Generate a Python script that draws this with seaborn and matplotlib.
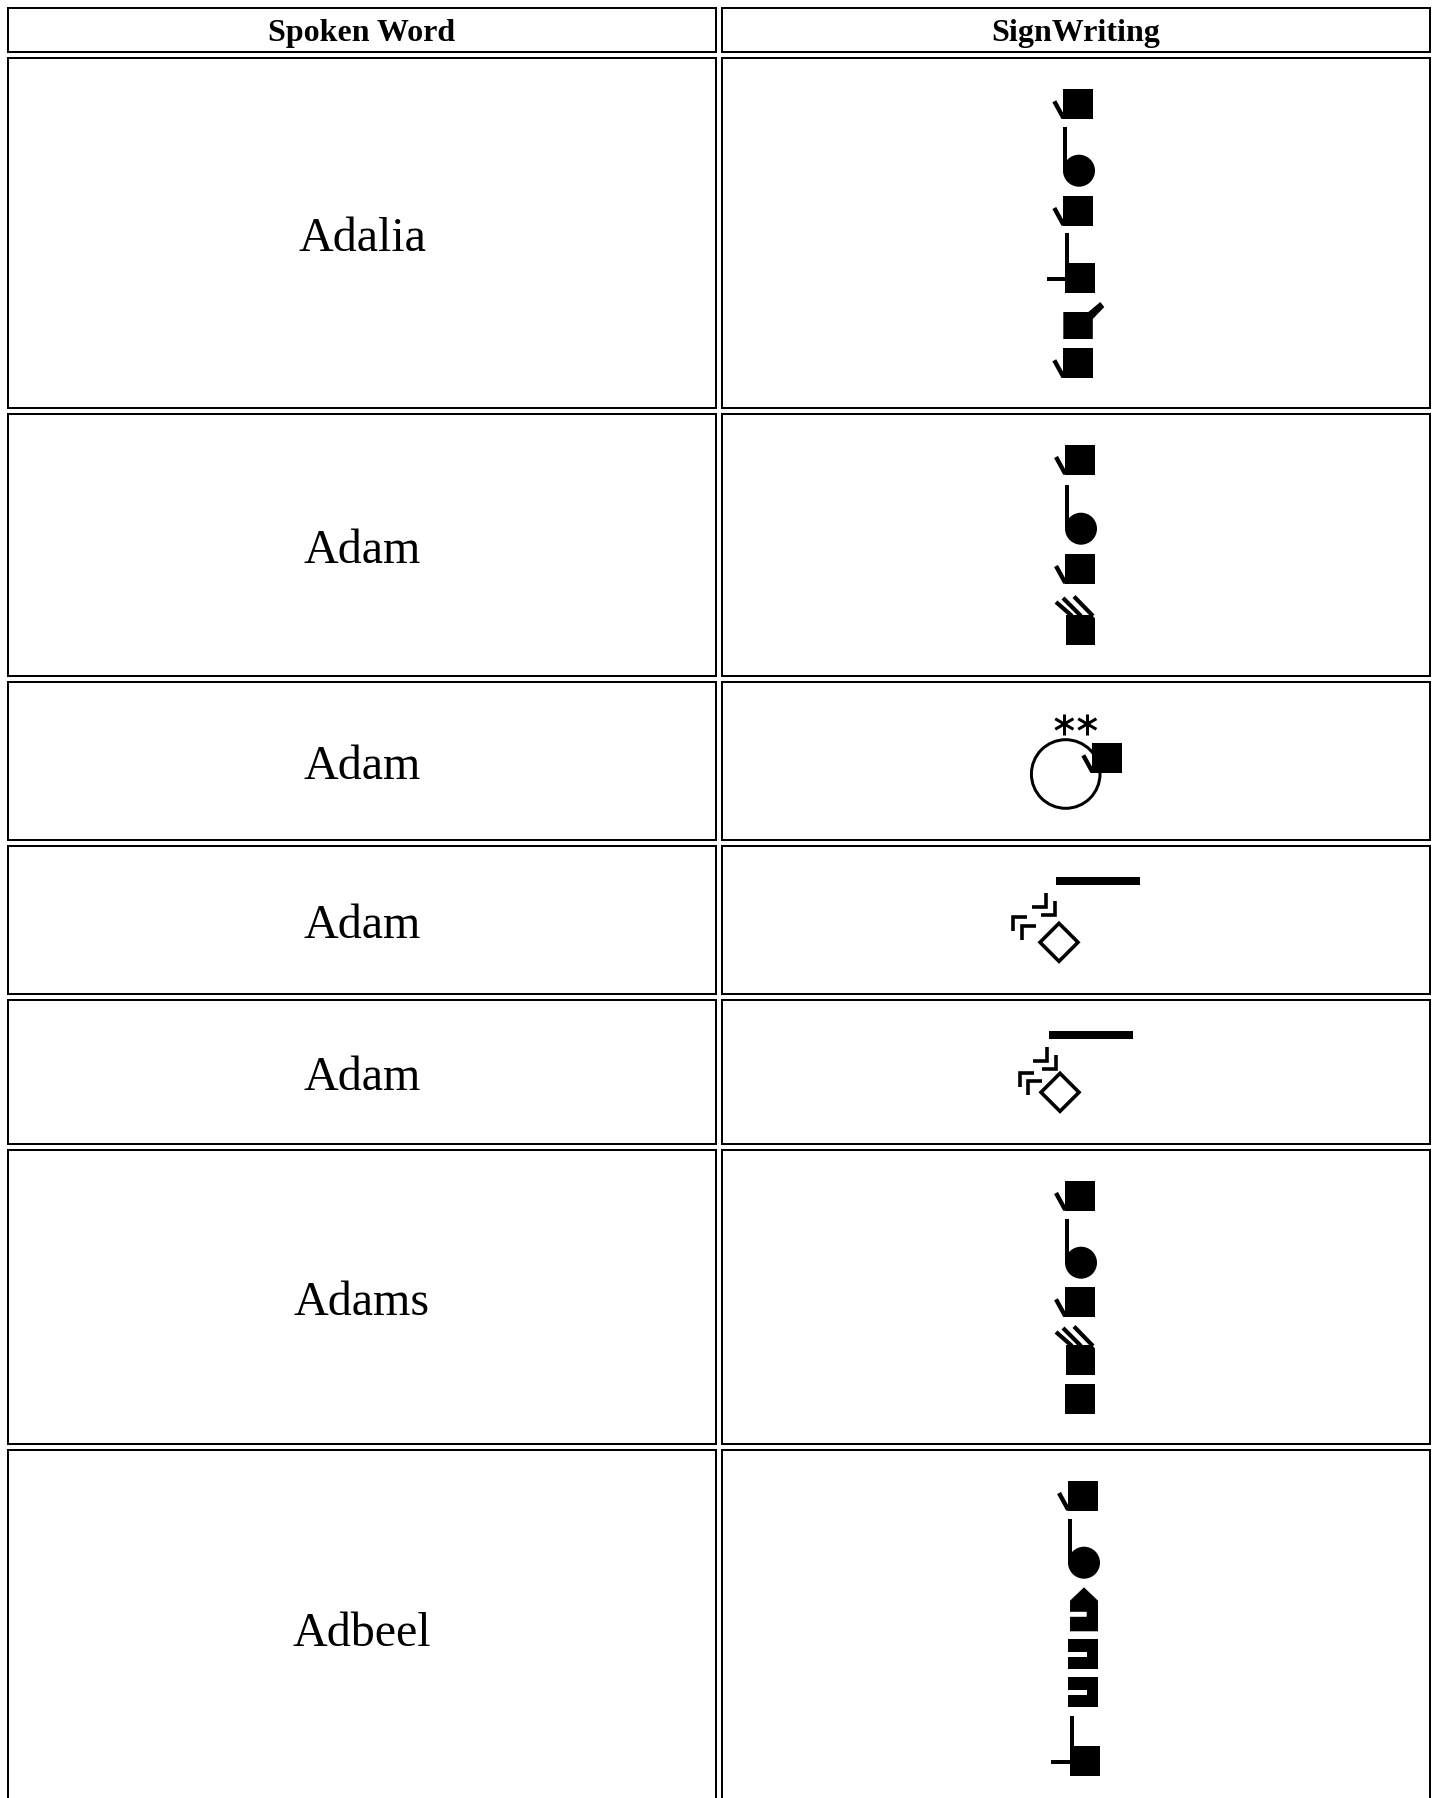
import matplotlib
matplotlib.use("Agg")
import matplotlib.pyplot as plt
from matplotlib.patches import Rectangle, Polygon, Circle
import numpy as np
import pandas as pd
import seaborn as sns

WIDTH, HEIGHT = 1435, 1798

headers = ["Spoken Word", "SignWriting"]
words = ["Adalia", "Adam", "Adam", "Adam", "Adam", "Adams", "Adbeel"]

col_edges = [(8, 716), (722, 1430)]
header_edge = (8, 52)
row_edges = [(58, 408), (414, 676), (682, 840), (846, 994),
             (1000, 1144), (1150, 1444), (1450, 1806)]

# SignWriting symbols of each row: (symbol kind, left or centre x, top or centre y)
row1_signs = [("tick", 1063.3, 89.3), ("ball", 1079, 170.7), ("tick", 1063.3, 196),
              ("stem", 1065.3, 263.3), ("flick", 1063.3, 311), ("tick", 1063.3, 348.3)]
row2_signs = [("tick", 1065, 445), ("ball", 1081, 528.7), ("tick", 1065, 554),
              ("rake", 1066, 615)]
row3_signs = [("ring", 1065.7, 774), ("star", 1064.3, 724), ("star", 1087.3, 724),
              ("tick", 1092.3, 743.3)]
row4_signs = [("bar", 1056, 876.7), ("diamond", 1059, 942.3),
              ("hook_ne", 1032.3, 907.3), ("hook_ne", 1041, 915),
              ("hook_nw", 1013.3, 917.3), ("hook_nw", 1021.7, 925.7)]
row5_signs = [("bar", 1049, 1031), ("diamond", 1060, 1092.3),
              ("hook_ne", 1033.3, 1061), ("hook_ne", 1041.7, 1069),
              ("hook_nw", 1020, 1073.3), ("hook_nw", 1027.7, 1081)]
row6_signs = [("tick", 1065, 1181), ("ball", 1081, 1262.7), ("tick", 1065, 1287.3),
              ("rake", 1066, 1345), ("block", 1065, 1384)]
row7_signs = [("tick", 1068, 1481), ("ball", 1084, 1562.7), ("house", 1070, 1587.3),
              ("notch", 1068, 1639.3), ("notch", 1068, 1677.3), ("stem", 1070, 1746)]
all_signs = [row1_signs, row2_signs, row3_signs, row4_signs,
             row5_signs, row6_signs, row7_signs]

sns.set_theme(style="white", rc={"figure.facecolor": "white", "axes.facecolor": "white"})
plt.rcParams["font.family"] = ["Liberation Serif", "DejaVu Serif"]

fig = plt.figure(figsize=(WIDTH / 100, HEIGHT / 100), dpi=100)
ax = fig.add_axes([0, 0, 1, 1])

# cell frames
frames = []
cell_id = 0
for top, bottom in [header_edge] + row_edges:
    for left, right in col_edges:
        for x, y in [(left, top), (right, top), (right, bottom), (left, bottom), (left, top)]:
            frames.append({"x": x, "y": y, "cell": cell_id})
        cell_id += 1
frames = pd.DataFrame(frames)
sns.lineplot(data=frames, x="x", y="y", units="cell", estimator=None, sort=False,
             color="black", lw=1.44, legend=False, ax=ax,
             solid_joinstyle="miter", solid_capstyle="projecting")
sns.despine(ax=ax, left=True, bottom=True)

PX = 0.72
SIDE = 29.5


def stroke(pts, w=4.0, cap="butt"):
    xs, ys = zip(*pts)
    ax.plot(xs, ys, color="black", lw=w * PX, solid_capstyle=cap, solid_joinstyle="miter")


def box(x, y, w=SIDE, h=SIDE):
    ax.add_patch(Rectangle((x, y), w, h, fc="black", ec="none"))


def draw_sign(kind, x, y):
    if kind == "tick":
        box(x, y)
        stroke([(x - 9, y + 12), (x - 0.5, y + 27.5), (x + 1.5, y + 27.5)], w=4.4)
    elif kind == "block":
        box(x, y)
    elif kind == "ball":
        ax.add_patch(Circle((x, y), 16, fc="black", ec="none"))
        stroke([(x - 14.2, y - 43.4), (x - 14.2, y)])
    elif kind == "stem":
        box(x, y)
        stroke([(x + 1.7, y - 30), (x + 1.7, y)])
        stroke([(x - 18.6, y + 16), (x, y + 16)])
    elif kind == "flick":
        ax.add_patch(Polygon([(x, y + 1), (x + 25, y + 1), (x + 37, y - 9), (x + 41, y - 4),
                              (x + 29.5, y + 8), (x + 29.5, y + 28), (x, y + 28)],
                             fc="black", ec="none"))
    elif kind == "rake":
        ax.add_patch(Polygon([(x, y), (x + 26, y), (x + 29, y + 3.5), (x + 29, y + 30), (x, y + 30)],
                             fc="black", ec="none"))
        stroke([(x - 10, y - 13), (x + 6, y + 1)], w=4.2)
        stroke([(x - 3, y - 17), (x + 15, y + 1)], w=4.2)
        stroke([(x + 8, y - 18.5), (x + 27, y + 1)], w=4.2)
    elif kind == "ring":
        ax.add_patch(Circle((x, y), 34.3, fc="none", ec="black", lw=3 * PX))
    elif kind == "star":
        for angle in (90, 30, 150):
            a = np.radians(angle)
            stroke([(x - 10.5 * np.cos(a), y - 10.5 * np.sin(a)),
                    (x + 10.5 * np.cos(a), y + 10.5 * np.sin(a))], w=3)
    elif kind == "bar":
        box(x, y, 84, 8.3)
    elif kind == "diamond":
        r = 19
        ax.add_patch(Polygon([(x, y - r), (x + r, y), (x, y + r), (x - r, y)],
                             fc="none", ec="black", lw=3.6 * PX, joinstyle="miter"))
    elif kind == "hook_ne":
        stroke([(x, y), (x + 14, y), (x + 14, y - 14)], w=3.6)
    elif kind == "hook_nw":
        stroke([(x + 14, y), (x, y), (x, y + 14)], w=3.6)
    elif kind == "house":
        ax.add_patch(Polygon([(x + 14, y), (x + 28, y + 13.4), (x + 28, y + 44), (x, y + 44),
                              (x, y + 29.5), (x + 16.7, y + 29.5), (x + 16.7, y + 24.5),
                              (x, y + 24.5), (x, y + 13.4)], fc="black", ec="none"))
    elif kind == "notch":
        ax.add_patch(Polygon([(x, y), (x + 30, y), (x + 30, y + 30), (x, y + 30), (x, y + 17.2),
                              (x + 18.7, y + 17.2), (x + 18.7, y + 12.4), (x, y + 12.4)],
                             fc="black", ec="none"))


for signs in all_signs:
    for kind, x, y in signs:
        draw_sign(kind, x, y)

# text: baseline sits a third of the font size below the cell's middle
col_centres = [(a + b) / 2 for a, b in col_edges]
head_mid = sum(header_edge) / 2
for cx, label in zip(col_centres, headers):
    ax.text(cx, head_mid + 11.5, label, ha="center", va="baseline",
            fontsize=32 * PX, fontweight="bold", color="black")
for (top, bottom), word in zip(row_edges, words):
    ax.text(col_centres[0], (top + bottom) / 2 + 18.2, word, ha="center", va="baseline",
            fontsize=48 * PX, color="black")

ax.set_xlim(0, WIDTH)
ax.set_ylim(HEIGHT, 0)
ax.set_xlabel("")
ax.set_ylabel("")
ax.set_xticks([])
ax.set_yticks([])
for s in ax.spines.values():
    s.set_visible(False)

fig.savefig("out.png", dpi=100, facecolor="white")
